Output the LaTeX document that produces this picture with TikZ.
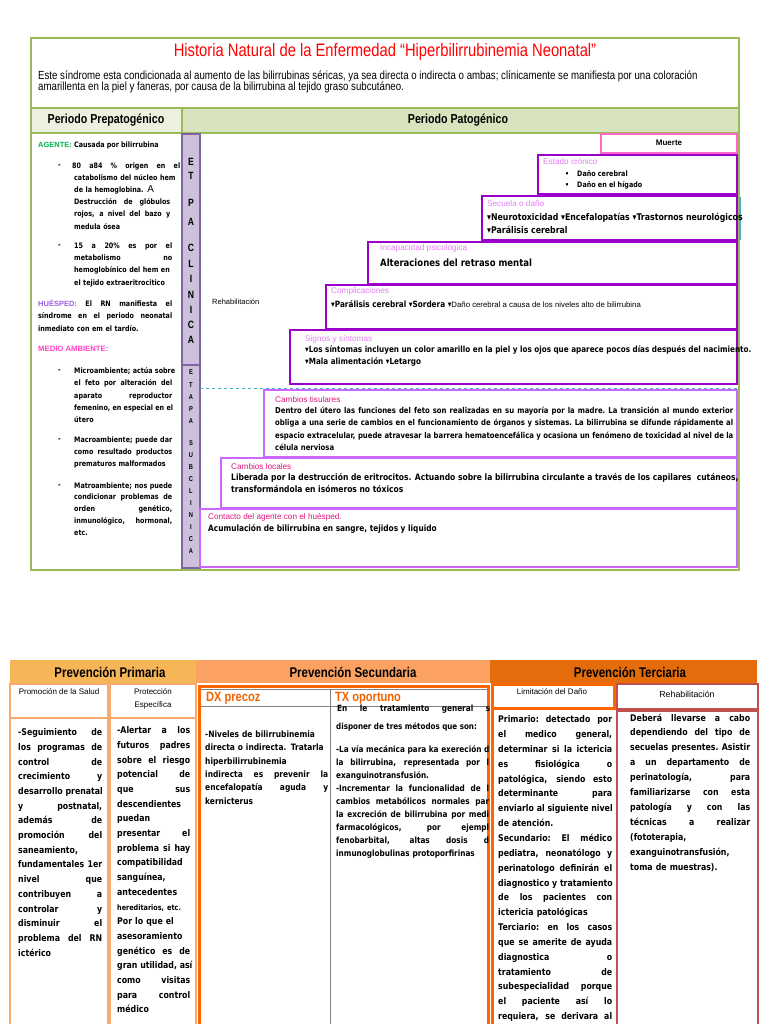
\documentclass[tikz,border=0pt]{standalone}
\usepackage{fontspec}
\setmainfont{Liberation Sans}
\newfontfamily\nar[FakeStretch=0.82]{Liberation Sans}
\newfontfamily\bod[FakeStretch=0.85]{DejaVu Sans}
\definecolor{cVerde}{HTML}{9BBB59}
\definecolor{cHdl}{HTML}{EBF1DE}
\definecolor{cHdr}{HTML}{D7E4BD}
\definecolor{cBarF}{HTML}{CCC0DA}
\definecolor{cBarB}{HTML}{8064A2}
\definecolor{cMuerte}{HTML}{FF66CC}
\definecolor{cMorado}{HTML}{9A00C9}
\definecolor{cLila}{HTML}{CC66FF}
\definecolor{cEtqA}{HTML}{E27CF2}
\definecolor{cEtqB}{HTML}{E0147A}
\definecolor{cCian}{HTML}{4BACC6}
\definecolor{cAg}{HTML}{00B050}
\definecolor{cHues}{HTML}{9B5FE0}
\definecolor{cMedio}{HTML}{FF40C0}
\definecolor{cPrim}{HTML}{F6B556}
\definecolor{cSec}{HTML}{FBA263}
\definecolor{cTer}{HTML}{E46C0A}
\definecolor{cBPrim}{HTML}{FAAA6E}
\definecolor{cNar}{HTML}{FF6600}
\definecolor{cRehab}{HTML}{C0504D}
% linea justificada: los espacios se estiran hasta el ancho
\newcommand\jw[2]{\makebox[#1][s]{\spaceskip=.3em plus 1fil\xspaceskip=\spaceskip #2}}
\newcommand\jl[1]{\jw{\hsize}{#1}}
\newcommand\fb[2]{\bod\bfseries\fontsize{#1}{#2}\selectfont}
\newcommand\fl[2]{\rmfamily\fontsize{#1}{#2}\selectfont}

\begin{document}
\begin{tikzpicture}[x=1pt,y=-1pt,
    frm/.style={draw=cVerde,line width=2pt},
    barra/.style={draw=cBarB,fill=cBarF,line width=1.5pt},
    caja/.style={draw=cMorado,line width=2.5pt},
    cajab/.style={draw=cLila,line width=2pt},
    txt/.style={anchor=north west,inner sep=0pt,align=left},
    lin/.style={anchor=west,inner sep=0pt},
    etqa/.style={lin,text=cEtqA,font=\fl{8.2}{9}},
    etqb/.style={lin,text=cEtqB,font=\fl{8.2}{9}},
    letra/.style={inner sep=0pt,font=\nar\bfseries\fontsize{10.5}{10}\selectfont},
    letrab/.style={inner sep=0pt,font=\nar\bfseries\fontsize{7}{7}\selectfont},
    cab/.style={inner sep=0pt,font=\nar\bfseries\fontsize{14}{14}\selectfont},
    sub/.style={inner sep=0pt,align=center,font=\fl{8}{13}}]
\useasboundingbox (0,0) rectangle (768,1024);

% ---- Historia natural ----
\fill[cHdl] (31,108) rectangle (182,133);
\fill[cHdr] (182,108) rectangle (739,133);
\draw[frm] (31,38) rectangle (739,570);
\draw[frm] (31,108) -- (739,108) (31,133) -- (739,133) (182,108) -- (182,133);
\node[text=red,font=\nar\fontsize{18}{20}\selectfont] (titulo) at (385,52)
  {Historia Natural de la Enfermedad “Hiperbilirrubinemia Neonatal”};
\node[txt,font=\nar\fontsize{11.8}{11.2}\selectfont] (intro) at (38,70.5)
  {Este síndrome esta condicionada al aumento de las bilirrubinas séricas, ya sea directa o indirecta o ambas; clínicamente se manifiesta por una coloración\\
   amarillenta en la piel y faneras, por causa de la bilirrubina al tejido graso subcutáneo.};
\node[font=\nar\bfseries\fontsize{13}{13}\selectfont] (prepat) at (106,120) {Periodo Prepatogénico};
\node[font=\nar\bfseries\fontsize{13}{13}\selectfont] (pat) at (458,120) {Periodo Patogénico};

% barras de etapas
\draw[barra] (182,134) rectangle (200,365);
\draw[barra] (182,365) rectangle (200,568);
\foreach \l/\y in {E/162,T/176,P/203,A/222,C/248,L/264,I/279,N/295,I/310,C/325,A/340}
  \node[letra] (ec\y) at (191,\y) {\l};
\foreach \l/\y in {E/372,T/385,A/397,P/409,A/421,S/443,U/455,B/467,C/479,L/491,I/503,N/515,I/527,C/539,A/551}
  \node[letrab] (es\y) at (191,\y) {\l};

% periodo prepatogenico
\node[lin,font=\fb{7.5}{9}] (agente) at (38,145)
  {\textcolor{cAg}{\rmfamily\bfseries AGENTE:} Causada por bilirrubina};
\node[lin,font=\fb{7.5}{9}] (g1) at (58,166) {-};
\node[txt,text width=96pt,font=\fb{7.5}{12.2}] (ag1) at (74,162.3)
  {\hspace*{-2pt}\jw{108pt}{80 a84 \% origen en el}\\
   \mbox{catabolismo del núcleo hem}\\
   de la hemoglobina. {\rmfamily\mdseries\fontsize{10}{10}\selectfont A}\\
   \jl{Destrucción de glóbulos}\\
   \jl{rojos, a nivel del bazo y}\\
   medula ósea};
\node[lin,font=\fb{7.5}{9}] (g2) at (58,246) {-};
\node[txt,text width=98pt,font=\fb{7.5}{12.3}] (ag2) at (74,242.3)
  {\jl{15 a 20\% es por el}\\
   \jl{metabolismo no}\\
   \mbox{hemoglobínico del hem en}\\
   \mbox{el tejido extraeritrocitico}};
\node[txt,text width=134pt,font=\fb{7.5}{12.5}] (hues) at (38,299.3)
  {\jl{\textcolor{cHues}{\rmfamily\bfseries HUÉSPED:} El RN manifiesta el}\\
   \jl{síndrome en el periodo neonatal}\\
   inmediato con em el tardío.};
\node[lin,text=cMedio,font=\fl{7.7}{9}\bfseries] (medio) at (38,349) {MEDIO AMBIENTE:};
\node[lin,font=\fb{7.5}{9}] (g3) at (58,371) {-};
\node[txt,text width=98pt,font=\fb{7.5}{12.25}] (micro) at (74,367.3)
  {\jl{Microambiente; actúa sobre}\\
   \jl{el feto por alteración del}\\
   \jl{aparato reproductor}\\
   \jl{femenino, en especial en el}\\
   útero};
\node[lin,font=\fb{7.5}{9}] (g4) at (58,440) {-};
\node[txt,text width=98pt,font=\fb{7.5}{12}] (macro) at (74,436.3)
  {\jl{Macroambiente; puede dar}\\
   \jl{como resultado productos}\\
   prematuros malformados};
\node[lin,font=\fb{7.5}{9}] (g5) at (58,486) {-};
\node[txt,text width=98pt,font=\fb{7.5}{11.75}] (matro) at (74,482.3)
  {\jl{Matroambiente; nos puede}\\
   \jl{condicionar problemas de}\\
   \jl{orden genético,}\\
   \jl{inmunológico, hormonal,}\\
   etc.};

% periodo patogenico: escalera
\draw[cajab] (200,509) rectangle (737,567);
\draw[cajab] (221,458) rectangle (737,508);
\draw[cajab] (264,390) rectangle (737,457);
\draw[cCian,dashed,line width=1pt] (200,388) -- (739,388);
\draw[caja] (290,330) rectangle (737,384);
\draw[caja] (326,285) rectangle (737,329);
\draw[caja] (368,242) rectangle (737,284);
\draw[caja] (482,196) rectangle (737,240);
\draw[cCian,line width=1.5pt] (740,197) -- (740,240);
\draw[caja] (538,155) rectangle (737,194);
\draw[draw=cMuerte,line width=2pt] (601,134) rectangle (737,153);

\node[font=\fl{8}{9}\bfseries] (muerte) at (669,143) {Muerte};
\node[etqa] (lcron) at (543,162) {Estado crónico};
\node[lin,font=\fb{7.5}{9}] (b1) at (565,174) {•};
\node[lin,font=\fb{7.5}{9}] (cron1) at (577,174) {Daño cerebral};
\node[lin,font=\fb{7.5}{9}] (b2) at (565,185) {•};
\node[lin,font=\fb{7.5}{9}] (cron2) at (577,185) {Daño en el hígado};
\node[etqa] (lsec) at (487,204) {Secuela o daño};
\node[txt,font=\fb{9.2}{13}] (sec) at (487,212.5)
  {▾Neurotoxicidad ▾Encefalopatías ▾Trastornos neurológicos\\ ▾Parálisis cerebral};
\node[etqa] (linc) at (380,248) {Incapacidad psicológica};
\node[lin,font=\fb{10}{11}] (inc) at (380,263) {Alteraciones del retraso mental};
\node[etqa] (lcomp) at (331,291) {Complicaciones};
\node[lin,font=\fb{8.6}{10}] (comp) at (331,304)
  {▾Parálisis cerebral ▾Sordera ▾{\rmfamily\mdseries\fontsize{7.8}{9}\selectfont Daño cerebral a causa de los niveles alto de bilirrubina}};
\node[etqa] (lsig) at (305,339) {Signos y síntomas};
\node[txt,font=\fb{8.5}{12}] (sig) at (305,345.5)
  {▾Los síntomas incluyen un color amarillo en la piel y los ojos que aparece pocos días después del nacimiento.\\
   ▾Mala alimentación ▾Letargo};
\node[lin,font=\fl{7.5}{9}] (rehab) at (212,302) {Rehabilitación};
\node[etqb] (ltis) at (275,400) {Cambios tisulares};
\node[txt,text width=458pt,font=\fb{8.1}{12.3}] (tis) at (275,407)
  {\jl{Dentro del útero las funciones del feto son realizadas en su mayoría por la madre. La transición al mundo exterior}\\
   \jl{obliga a una serie de cambios en el funcionamiento de órganos y sistemas. La bilirrubina se difunde rápidamente al}\\
   \jl{espacio extracelular, puede atravesar la barrera hematoencefálica y ocasiona un fenómeno de toxicidad al nivel de la}\\
   célula nerviosa};
\node[etqb] (lloc) at (231,467) {Cambios locales};
\node[txt,font=\fb{8.9}{11.5}] (loc) at (231,473.5)
  {Liberada por la destrucción de eritrocitos. Actuando sobre la bilirrubina circulante a través de los capilares \ cutáneos,\\
   transformándola en isómeros no tóxicos};
\node[etqb] (lcont) at (208,517) {Contacto del agente con el huésped.};
\node[lin,font=\fb{8.7}{10}] (cont) at (208,529) {Acumulación de bilirrubina en sangre, tejidos y liquido};

% ---- niveles de prevencion ----
\fill[cPrim] (10,660) rectangle (196,683);
\fill[cSec] (196,660) rectangle (490,683);
\fill[cTer] (490,660) rectangle (757,683);
\node[cab] (prim) at (110,672) {Prevención Primaria};
\node[cab] (secu) at (353,672) {Prevención Secundaria};
\node[cab] (terc) at (630,672) {Prevención Terciaria};

\draw[draw=cBPrim,line width=2pt] (10,684) rectangle (108,718) (110,684) rectangle (196,718)
  (10,718) rectangle (108,1030) (110,718) rectangle (196,1030);
\node[sub] (promo) at (59,692) {Promoción de la Salud};
\node[sub] (prot) at (153,699) {Protección\\ Específica};

\draw[gray,line width=0.8pt] (201,689) -- (488,689) (201,706) -- (488,706) (330,689) -- (330,1030);
\draw[draw=cNar,line width=3pt] (199,686) rectangle (488,1030);
\node[lin,text=cNar!95!black,font=\nar\bfseries\fontsize{13.5}{14}\selectfont] (dx) at (206,698) {DX precoz};
\node[lin,text=cNar!95!black,font=\nar\bfseries\fontsize{13.5}{14}\selectfont] (tx) at (335,698) {TX oportuno};

\draw[draw=cNar,line width=3pt] (492,684) rectangle (614,708);
\draw[draw=cNar,line width=3pt] (492,710) -- (492,1030);
\draw[draw=cRehab,line width=2.5pt] (617,684) rectangle (758,709) (617,711) rectangle (758,1030);
\node[sub] (lim) at (552,692) {Limitación del Daño};
\node[sub,font=\fl{8.8}{10}] (rehb) at (687,694) {Rehabilitación};

\node[txt,text width=84pt,font=\fb{9.2}{14.7}] (prom) at (18,728.5)
  {\jl{-Seguimiento de}\\ \jl{los programas de}\\ \jl{control de}\\ \jl{crecimiento y}\\
   \jl{desarrollo prenatal}\\ \jl{y postnatal,}\\ \jl{además de}\\ \jl{promoción del}\\
   saneamiento,\\ \jl{fundamentales 1er}\\ \jl{nivel que}\\ \jl{contribuyen a}\\
   \jl{controlar y}\\ \jl{disminuir el}\\ \jl{problema del RN}\\ ictérico};
\node[txt,text width=73pt,font=\fb{9.2}{14.7}] (espec) at (117,726.5)
  {\jl{-Alertar a los}\\ \jl{futuros padres}\\ \jl{sobre el riesgo}\\ \jl{potencial de}\\
   \jl{que sus}\\ descendientes\\ puedan\\ \jl{presentar el}\\ \jl{problema si hay}\\
   compatibilidad\\ sanguínea,\\ antecedentes\\ {\fontsize{7.6}{14.7}\selectfont hereditarios, etc.}\\
   Por lo que el\\ asesoramiento\\ \jl{genético es de}\\ \jl{gran utilidad, así}\\
   \jl{como visitas}\\ \jl{para control}\\ médico};
\node[txt,text width=123pt,font=\fb{8.8}{13.4}] (dxt) at (205,730.5)
  {\mbox{-Niveles de bilirrubinemia}\\ \mbox{directa o indirecta. Tratarla}\\ hiperbilirrubinemia\\
   \jl{indirecta es prevenir la}\\ \jl{encefalopatía aguda y}\\ kernicterus};
\begin{scope}
  \clip (331,700) rectangle (489,1024);
  \node[txt,text width=153pt,font=\fb{8.6}{13}] (tx1) at (337,705) {\jl{En le tratamiento general s}};
  \node[txt,font=\fb{8.4}{13}] (tx2) at (336,723) {disponer de tres métodos que son:};
  \node[txt,text width=153pt,font=\fb{8.6}{13}] (tx3) at (336,745)
    {\jl{-La vía mecánica para ka exereción d}\\ \jl{la bilirrubina, representada por l}\\
     exanguinotransfusión.\\ \jl{-Incrementar la funcionalidad de l}\\
     \jl{cambios metabólicos normales par}\\ \jl{la excreción de bilirrubina por medi}\\
     \jl{farmacológicos, por ejempl}\\ \jl{fenobarbital, altas dosis d}\\
     inmunoglobulinas protoporfirinas};
\end{scope}
\node[txt,text width=114pt,font=\fb{9.2}{14.85}] (limt) at (498,715.5)
  {\jl{Primario: detectado por}\\ \jl{el medico general,}\\ \jl{determinar si la ictericia}\\
   \jl{es fisiológica o}\\ \jl{patológica, siendo esto}\\ \jl{determinante para}\\
   \jl{enviarlo al siguiente nivel}\\ de atención.\\ \jl{Secundario: El médico}\\
   \jl{pediatra, neonatólogo y}\\ \jl{perinatologo definirán el}\\ \jl{diagnostico y tratamiento}\\
   \jl{de los pacientes con}\\ ictericia patológicas\\ \jl{Terciario: en los casos}\\
   \jl{que se amerite de ayuda}\\ \jl{diagnostica o}\\ \jl{tratamiento de}\\
   \jl{subespecialidad porque}\\ \jl{el paciente así lo}\\ \jl{requiera, se derivara al}};
\node[txt,text width=120pt,font=\fb{9.2}{14.9}] (reht) at (630,713.5)
  {\jl{Deberá llevarse a cabo}\\ \jl{dependiendo del tipo de}\\ \jl{secuelas presentes. Asistir}\\
   \jl{a un departamento de}\\ \jl{perinatología, para}\\ \jl{familiarizarse con esta}\\
   \jl{patología y con las}\\ \jl{técnicas a realizar}\\ (fototerapia,\\
   exanguinotransfusión,\\ toma de muestras).};
\end{tikzpicture}
\end{document}
